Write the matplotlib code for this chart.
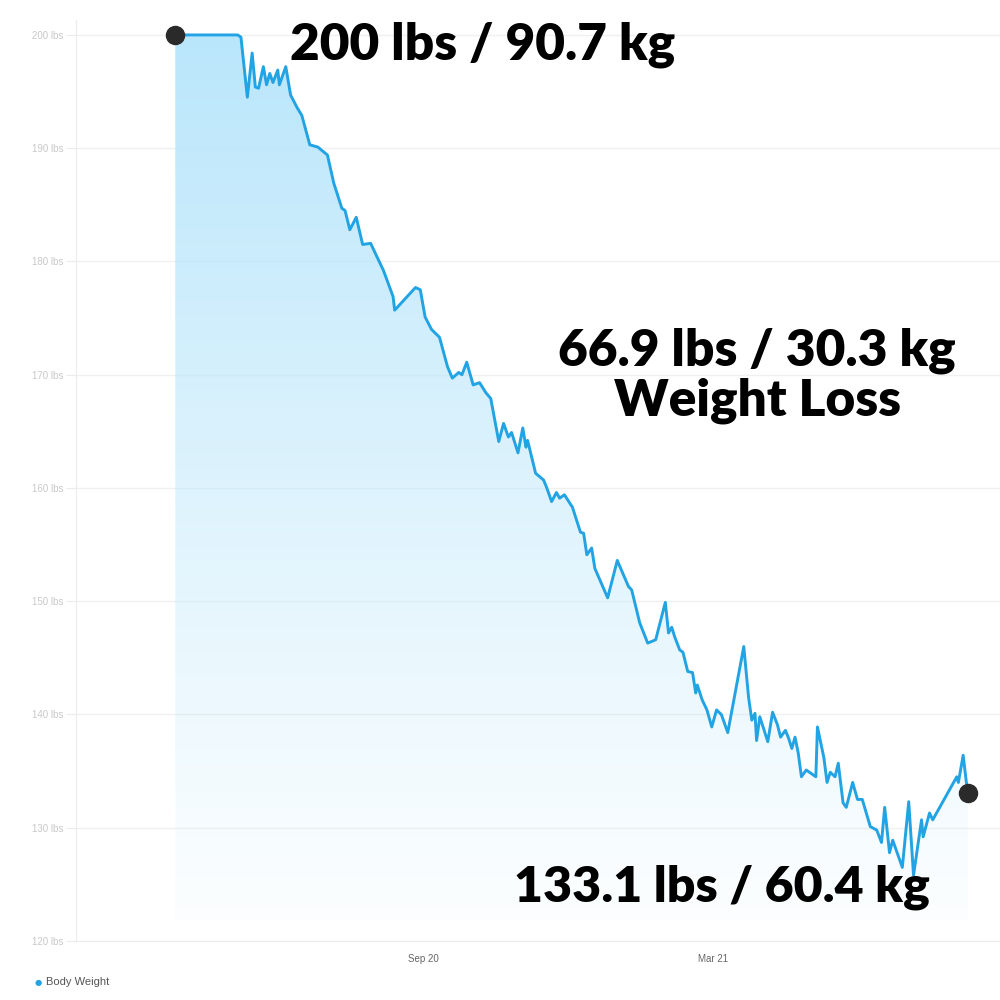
import datetime
import matplotlib
matplotlib.use('Agg')
import matplotlib.pyplot as plt
import matplotlib.dates as mdates
from matplotlib.patches import Polygon
import numpy as np

# data: days since start date, weight in lbs
start_date = datetime.date(2020, 3, 30)
day_offsets = [0, 39, 41, 45, 48, 50, 52, 55, 57, 59, 61, 64, 65, 69, 72, 76, 79, 84, 89, 95,
               99, 104, 106, 109, 113, 117, 122, 130, 136, 137, 150, 153, 156, 160, 165, 170,
               173, 177, 179, 182, 186, 190, 194, 197, 202, 205, 208, 210, 214, 217, 219, 220,
               225, 230, 232, 235, 238, 240, 243, 248, 253, 255, 257, 260, 262, 270, 276, 283,
               285, 290, 295, 300, 306, 308, 310, 312, 315, 317, 320, 323, 325, 326, 329, 332,
               335, 338, 341, 345, 355, 358, 360, 362, 363, 365, 370, 373, 376, 378, 381, 383,
               385, 387, 389, 391, 394, 400, 401, 405, 407, 409, 412, 414, 417, 419, 423, 426,
               429, 434, 438, 441, 443, 446, 448, 454, 458, 461, 466, 467, 471, 473, 488, 489,
               490, 492, 494, 495]
weight_lbs = [200.0, 200.0, 199.8, 194.5, 198.4, 195.4, 195.3, 197.2, 195.6, 196.6, 195.8, 196.9,
              195.6, 197.2, 194.7, 193.6, 192.9, 190.3, 190.1, 189.4, 186.9, 184.7, 184.5, 182.8,
              183.9, 181.5, 181.6, 179.2, 176.9, 175.7, 177.7, 177.5, 175.1, 174.0, 173.3, 170.7,
              169.7, 170.2, 170.0, 171.1, 169.1, 169.3, 168.4, 167.9, 164.1, 165.7, 164.5, 164.9,
              163.1, 165.3, 163.6, 164.2, 161.3, 160.7, 160.0, 158.8, 159.6, 159.1, 159.4, 158.3,
              156.1, 156.0, 154.1, 154.7, 152.9, 150.3, 153.6, 151.3, 151.0, 148.1, 146.3, 146.6,
              149.9, 147.2, 147.7, 146.8, 145.7, 145.5, 143.8, 143.7, 141.9, 142.6, 141.3, 140.4,
              138.9, 140.4, 140.0, 138.4, 146.0, 141.5, 139.5, 140.1, 137.7, 139.8, 137.6, 140.2,
              139.1, 138.0, 138.6, 137.9, 137.0, 138.0, 136.6, 134.5, 135.1, 134.5, 138.9, 136.2,
              134.0, 134.9, 134.5, 135.7, 132.2, 131.8, 134.0, 132.5, 132.5, 130.1, 129.8, 128.7,
              131.8, 127.8, 128.9, 126.5, 132.3, 125.8, 130.7, 129.2, 131.3, 130.7, 134.5, 134.0,
              134.8, 136.4, 134.0, 133.1]
y_ticks = [120, 130, 140, 150, 160, 170, 180, 190, 200]
x_tick_dates = [datetime.date(2020, 9, 1), datetime.date(2021, 3, 1)]
label_start = '200 lbs / 90.7 kg'
label_loss = ['66.9 lbs / 30.3 kg', 'Weight Loss']
label_end = '133.1 lbs / 60.4 kg'

dates = [start_date + datetime.timedelta(days=d) for d in day_offsets]
xs = mdates.date2num(dates)
ys = np.array(weight_lbs)

line_color = '#22a3e3'
fig = plt.figure(figsize=(10, 10), dpi=100)
ax = fig.add_axes([0.076, 0.059, 0.924, 0.921])

x0 = mdates.date2num(start_date)
ax.set_xlim(x0 - 62, x0 + 515)
ax.set_ylim(120, 201.32)

# gradient fill under the line
fill_bottom = 121.85
grad = np.linspace(0, 1, 256)
img = np.ones((256, 1, 4))
img[:, 0, :3] = np.array([185, 230, 251]) / 255.0
img[:, 0, 3] = 0.05 + 0.95 * grad ** 1.1
im = ax.imshow(img, aspect='auto', origin='lower',
               extent=[xs[0], xs[-1], fill_bottom, 200.0], zorder=1)
verts = [(xs[0], fill_bottom)] + list(zip(xs, ys)) + [(xs[-1], fill_bottom)]
clip = Polygon(verts, closed=True, facecolor='none', edgecolor='none')
ax.add_patch(clip)
im.set_clip_path(clip)

ax.plot(xs, ys, color=line_color, lw=2.1, zorder=3, solid_joinstyle='round')
ax.plot([xs[0], xs[-1]], [ys[0], ys[-1]], 'o', color='#2a2a2a', ms=13, zorder=4, clip_on=False)

# axes styling
for s in ['top', 'right']:
    ax.spines[s].set_visible(False)
ax.spines['left'].set_color('#ececec')
ax.spines['bottom'].set_color('#ececec')
ax.set_yticks(y_ticks)
ax.set_yticklabels([f'{v} lbs' for v in y_ticks], fontsize=7, color='#c8c8c8',
                   family='Liberation Sans')
ax.tick_params(axis='y', length=7, color='#ececec', pad=2)
ax.yaxis.grid(True, color='#f0f0f0', lw=1)
ax.set_xticks(mdates.date2num(x_tick_dates))
ax.xaxis.set_major_formatter(mdates.DateFormatter('%b %y'))
ax.tick_params(axis='x', length=0, pad=9, labelsize=7, labelcolor='#666666')
for t in ax.get_xticklabels():
    t.set_family('Liberation Sans')
ax.set_axisbelow(True)

# annotations
big = dict(fontsize=37, fontweight='heavy', family='Lato', color='#000000', va='baseline')
fig.text(0.483, 0.940, label_start, ha='center', **big)
fig.text(0.757, 0.635, label_loss[0], ha='center', **big)
fig.text(0.757, 0.585, label_loss[1], ha='center', **big)
fig.text(0.722, 0.098, label_end, ha='center', fontsize=36, fontweight='heavy',
         family='Lato', color='#000000', va='baseline')

# legend
fig.text(0.038, 0.018, '\u25cf', color=line_color, fontsize=6, va='center', ha='center')
fig.text(0.046, 0.018, 'Body Weight', color='#555555', fontsize=8, va='center',
         family='Liberation Sans')

plt.savefig('out.png', dpi=100)
